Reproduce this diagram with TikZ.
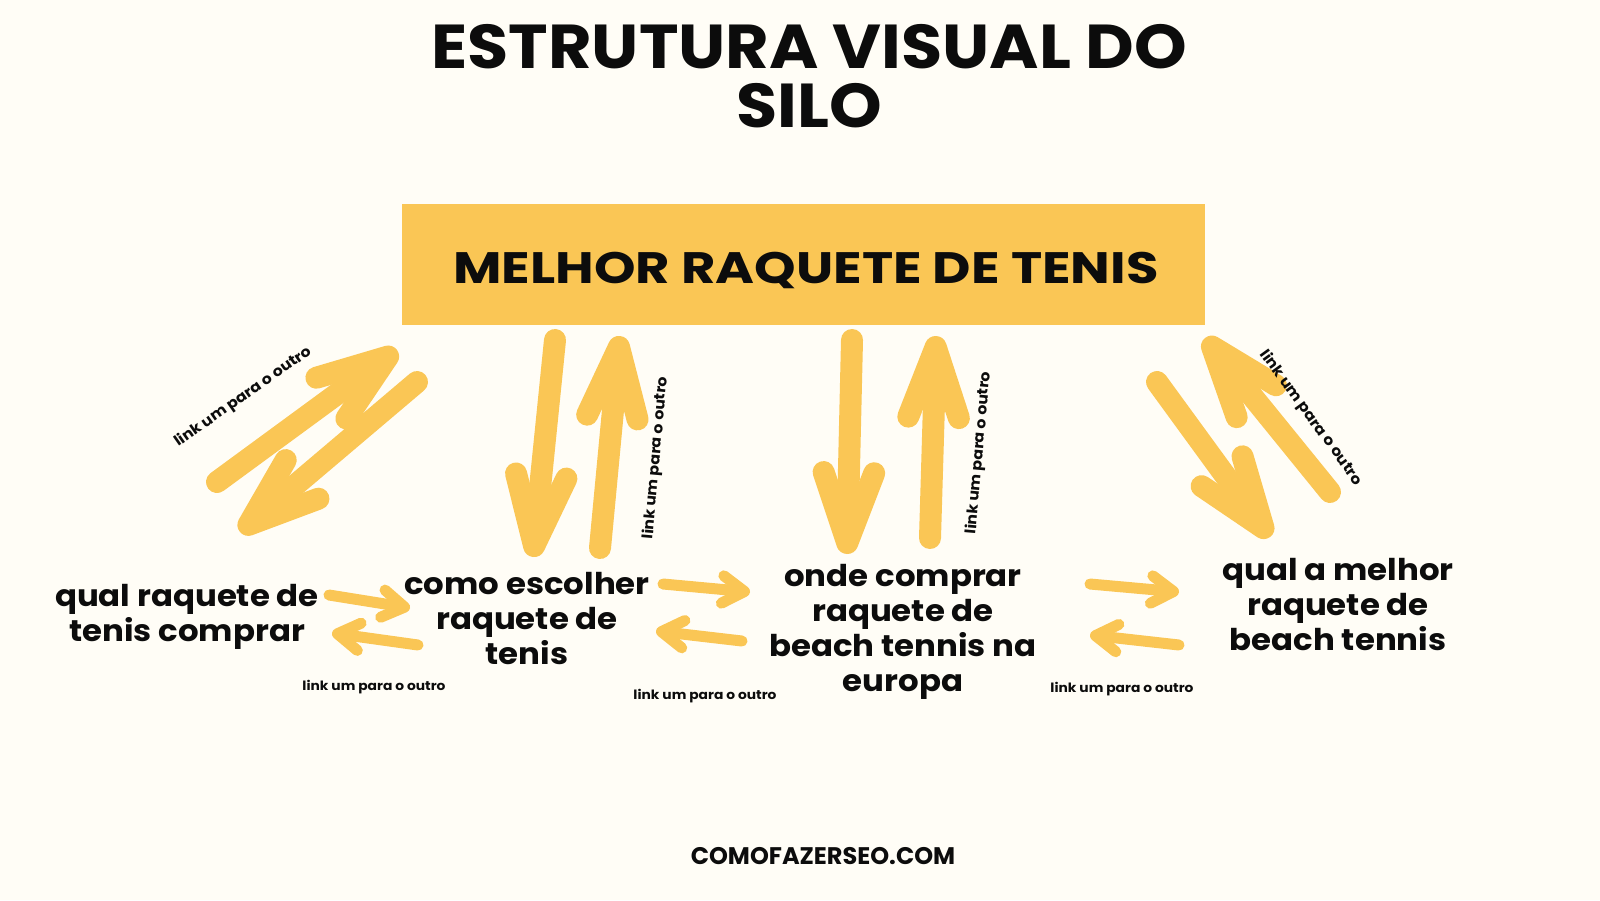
\documentclass[tikz,border=0pt]{standalone}
\usepackage{fontspec}
\setmainfont{Poppins}
\newfontfamily\siloFont{Poppins}[FakeStretch=1.08]
\newfontfamily\pillarFont{Poppins}[FakeStretch=1.2]
\usetikzlibrary{positioning, arrows.meta}
\definecolor{siloYellow}{RGB}{250, 198, 85}
\definecolor{siloPaper}{RGB}{255, 253, 246}
\definecolor{siloInk}{RGB}{12, 12, 12}
\tikzset{
    base/.style={
        font=\siloFont\bfseries,
        text=siloInk,
        align=center
    },
    headline/.style={
        base,
        font=\siloFont\bfseries\fontsize{62}{59}\selectfont
    },
    pillar/.style={
        rectangle,
        fill=siloYellow,
        minimum width=803pt,
        minimum height=121pt
    },
    pillartext/.style={
        base,
        inner sep=0pt,
        font=\pillarFont\bfseries\fontsize{44}{48}\selectfont
    },
    topic/.style={
        base,
        inner sep=0pt,
        font=\siloFont\bfseries\fontsize{30}{35}\selectfont
    },
    linklabel/.style={
        base,
        inner sep=0pt,
        font=\siloFont\bfseries\fontsize{12.8}{14}\selectfont
    },
    slantlabel/.style={
        linklabel,
        font=\siloFont\bfseries\fontsize{14.6}{16}\selectfont
    },
    bigflow/.style={
        draw=siloYellow,
        line width=22pt,
        line cap=round,
        line join=round,
        -{Straight Barb[length=0pt 3.2, width=0pt 2.3, round]}
    },
    flow/.style={
        draw=siloYellow,
        line width=11pt,
        line cap=round,
        line join=round,
        -{Straight Barb[length=0pt 2, width=0pt 2.5, round]}
    }
}

\begin{document}
\begin{tikzpicture}[x=1pt, y=-1pt]
  \fill[siloPaper] (0,0) rectangle (1600,900);
  \useasboundingbox (0,0) rectangle (1600,900);

  % title and pillar page
  \node[headline] (title) at (809,76) {ESTRUTURA VISUAL DO\\SILO};
  \node[pillar] (pillar) at (803.5,264.5) {};
  \node[pillartext] (pillarText) at (806,270) {MELHOR RAQUETE DE TENIS};

  % cluster pages
  \node[topic] (qual) at (187,617) {qual raquete de\\tenis comprar};
  \node[topic] (como) at (527,619) {como escolher\\raquete de\\tenis};
  \node[topic] (onde) at (903,632) {onde comprar\\raquete de\\beach tennis na\\europa};
  \node[topic] (beach) at (1338,605) {qual a melhor\\raquete de\\beach tennis};

  \node[base, font=\bfseries\fontsize{24}{26}\selectfont] (site) at (823,856) {COMOFAZERSEO.COM};

  % arrow ends
  \coordinate (a1t) at (217,482);  \coordinate (a1h) at (397,350);
  \coordinate (a2t) at (417,382);  \coordinate (a2h) at (240,532);
  \coordinate (a3t) at (555,340);  \coordinate (a3h) at (533,557);
  \coordinate (a4t) at (600,548);  \coordinate (a4h) at (620,336);
  \coordinate (a5t) at (852,340);  \coordinate (a5h) at (847,554);
  \coordinate (a6t) at (930,538);  \coordinate (a6h) at (936,336);
  \coordinate (a7t) at (1330,492); \coordinate (a7h) at (1205,338);
  \coordinate (a8t) at (1157,382); \coordinate (a8h) at (1270,537);

  \coordinate (h1t) at (329,595);  \coordinate (h1h) at (410,608);
  \coordinate (h2t) at (418,645);  \coordinate (h2h) at (332,633);
  \coordinate (h3t) at (663,584);  \coordinate (h3h) at (750,592);
  \coordinate (h4t) at (742,641);  \coordinate (h4h) at (656,631);
  \coordinate (h5t) at (1090,584); \coordinate (h5h) at (1179,592);
  \coordinate (h6t) at (1179,645); \coordinate (h6h) at (1090,635);

  % up and down links
  \draw[bigflow] (a1t) -- (a1h);
  \draw[bigflow] (a2t) -- (a2h);
  \draw[bigflow] (a3t) -- (a3h);
  \draw[bigflow] (a4t) -- (a4h);
  \draw[bigflow] (a5t) -- (a5h);
  \draw[bigflow] (a6t) -- (a6h);
  \draw[bigflow] (a7t) -- (a7h);
  \draw[bigflow] (a8t) -- (a8h);

  % side links
  \draw[flow] (h1t) -- (h1h);
  \draw[flow] (h2t) -- (h2h);
  \draw[flow] (h3t) -- (h3h);
  \draw[flow] (h4t) -- (h4h);
  \draw[flow] (h5t) -- (h5h);
  \draw[flow] (h6t) -- (h6h);

  % link labels
  \node[slantlabel, rotate=35] (lab1) at (243,397) {link um para o outro};
  \node[slantlabel, rotate=85] (lab2) at (656,458) {link um para o outro};
  \node[slantlabel, rotate=85] (lab3) at (979,453) {link um para o outro};
  \node[slantlabel, rotate=-54] (lab4) at (1311,418) {link um para o outro};
  \node[linklabel] (lab5) at (374,687) {link um para o outro};
  \node[linklabel] (lab6) at (705,696) {link um para o outro};
  \node[linklabel] (lab7) at (1122,689) {link um para o outro};
\end{tikzpicture}
\end{document}
